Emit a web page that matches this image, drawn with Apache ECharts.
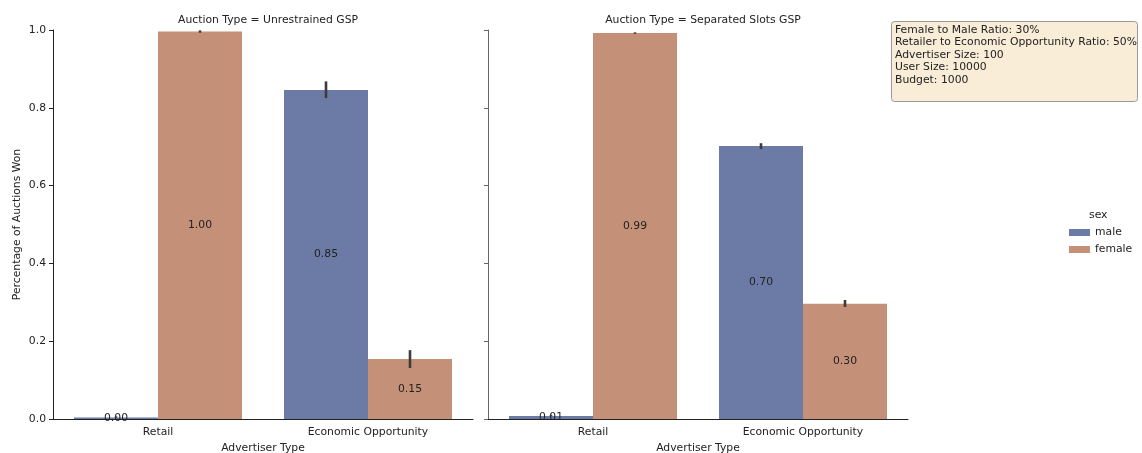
<!DOCTYPE html>
<html>
<head>
<meta charset="utf-8">
<script src="https://cdn.jsdelivr.net/npm/echarts@6/dist/echarts.min.js"></script>
<style>
  html, body { margin: 0; padding: 0; background: #fff; }
  #chart { width: 1142px; height: 453px; }
</style>
</head>
<body>
<div id="chart"></div>
<script>
// Advertiser categories on each panel's x axis
const categories = ['Retail', 'Economic Opportunity'];
const panelTitles = ['Auction Type = Unrestrained GSP', 'Auction Type = Separated Slots GSP'];
const sexes = ['male', 'female'];
const yTicks = [0, 0.2, 0.4, 0.6, 0.8, 1.0];

// Mean share of auctions won, per category
const maleUnrestrained = [0.004, 0.846];
const femaleUnrestrained = [0.996, 0.154];
const maleSeparated = [0.008, 0.702];
const femaleSeparated = [0.992, 0.296];

// Confidence intervals [low, high], per category
const maleUnrestrainedCI = [[0.003, 0.005], [0.825, 0.868]];
const femaleUnrestrainedCI = [[0.993, 0.999], [0.131, 0.177]];
const maleSeparatedCI = [[0.007, 0.009], [0.694, 0.709]];
const femaleSeparatedCI = [[0.990, 0.994], [0.288, 0.306]];

// Simulation settings shown in the note box
const noteLines = [
  'Female to Male Ratio: 30%',
  'Retailer to Economic Opportunity Ratio: 50%',
  'Advertiser Size: 100',
  'User Size: 10000',
  'Budget: 1000'
];

const colors = { male: '#6c7ba6', female: '#c49178' };
const FONT = 'DejaVu Sans';
const FS = 10.8;
const textColor = '#222';

const panels = [
  { male: maleUnrestrained, female: femaleUnrestrained, maleCI: maleUnrestrainedCI, femaleCI: femaleUnrestrainedCI },
  { male: maleSeparated, female: femaleSeparated, maleCI: maleSeparatedCI, femaleCI: femaleSeparatedCI }
];

const grids = [
  { left: 53, top: 30, width: 420, height: 389, outerBoundsMode: 'none', containLabel: false },
  { left: 488, top: 30, width: 420, height: 389, outerBoundsMode: 'none', containLabel: false }
];

const xAxes = grids.map((g, i) => ({
  type: 'category',
  gridIndex: i,
  data: categories,
  name: 'Advertiser Type',
  nameLocation: 'middle',
  nameGap: 24,
  nameTextStyle: { fontFamily: FONT, fontSize: FS, color: textColor },
  axisLine: { lineStyle: { color: '#222', width: 1 } },
  axisTick: { alignWithLabel: true, length: 4, lineStyle: { color: '#222' } },
  axisLabel: { fontFamily: FONT, fontSize: FS, color: textColor, margin: 8 },
  splitLine: { show: false }
}));

const yAxes = grids.map((g, i) => ({
  type: 'value',
  gridIndex: i,
  min: 0,
  max: 1,
  interval: 0.2,
  name: i === 0 ? 'Percentage of Auctions Won' : '',
  nameLocation: 'middle',
  nameGap: 30,
  nameTextStyle: { fontFamily: FONT, fontSize: FS, color: textColor },
  axisLine: { show: true, lineStyle: { color: i === 0 ? '#222' : '#666', width: 1 } },
  axisTick: { show: true, length: 4, lineStyle: { color: i === 0 ? '#222' : '#666' } },
  axisLabel: {
    show: i === 0,
    fontFamily: FONT, fontSize: FS, color: textColor, margin: 7,
    formatter: v => yTicks.includes(+v.toFixed(1)) ? v.toFixed(1) : ''
  },
  splitLine: { show: false }
}));

const series = [];
panels.forEach((p, i) => {
  sexes.forEach(sex => {
    series.push({
      type: 'bar',
      name: sex,
      xAxisIndex: i,
      yAxisIndex: i,
      data: p[sex],
      barGap: '0%',
      barCategoryGap: '20%',
      itemStyle: { color: colors[sex] },
      label: {
        show: true,
        position: 'inside',
        fontFamily: FONT,
        fontSize: FS,
        color: textColor,
        formatter: d => d.value.toFixed(2)
      },
      emphasis: { disabled: true },
      z: 2
    });
  });
  // Error bars drawn on top of each bar
  sexes.forEach((sex, k) => {
    const ci = p[sex + 'CI'];
    series.push({
      type: 'custom',
      name: sex + ' CI',
      xAxisIndex: i,
      yAxisIndex: i,
      data: ci.map((c, j) => [j, c[0], c[1]]),
      renderItem: (params, api) => {
        const band = api.size([1, 0])[0];
        const offset = (k === 0 ? -1 : 1) * band * 0.2;
        const lo = api.coord([api.value(0), api.value(1)]);
        const hi = api.coord([api.value(0), api.value(2)]);
        const x = lo[0] + offset;
        return {
          type: 'line',
          shape: { x1: x, y1: lo[1], x2: x, y2: Math.min(hi[1], lo[1] - 1.5) },
          style: { stroke: '#3c3c3c', lineWidth: 2.6 }
        };
      },
      silent: true,
      z: 5
    });
  });
});

const noteTop = 21, noteLeft = 891;

const option = {
  animation: false,
  backgroundColor: '#fff',
  textStyle: { fontFamily: FONT },
  title: panelTitles.map((t, i) => ({
    text: t,
    left: grids[i].left + grids[i].width / 2,
    top: 10,
    textAlign: 'center',
    textStyle: { fontFamily: FONT, fontSize: FS, fontWeight: 'normal', color: textColor }
  })),
  legend: {
    data: sexes,
    orient: 'vertical',
    left: 1064,
    top: 222,
    itemWidth: 21,
    itemHeight: 7,
    itemGap: 6,
    icon: 'rect',
    textStyle: { fontFamily: FONT, fontSize: FS, color: textColor, padding: [0, 0, 0, 0] },
    selectedMode: false
  },
  grid: grids,
  xAxis: xAxes,
  yAxis: yAxes,
  series: series,
  graphic: [
    {
      type: 'text',
      left: 1089,
      top: 210,
      style: { text: 'sex', fontFamily: FONT, fontSize: FS, fill: textColor }
    },
    {
      type: 'rect',
      left: noteLeft,
      top: noteTop,
      shape: { width: 246, height: 80, r: 3 },
      style: { fill: '#f9edd8', stroke: '#9a9a9a', lineWidth: 1 }
    },
    {
      type: 'text',
      left: noteLeft + 4,
      top: noteTop + 3,
      style: {
        text: noteLines.join('\n'),
        fontFamily: FONT,
        fontSize: FS,
        lineHeight: 12.4,
        fill: textColor
      }
    }
  ]
};

const chart = echarts.init(document.getElementById('chart'), null, { renderer: 'canvas' });
chart.setOption(option);
</script>
</body>
</html>
